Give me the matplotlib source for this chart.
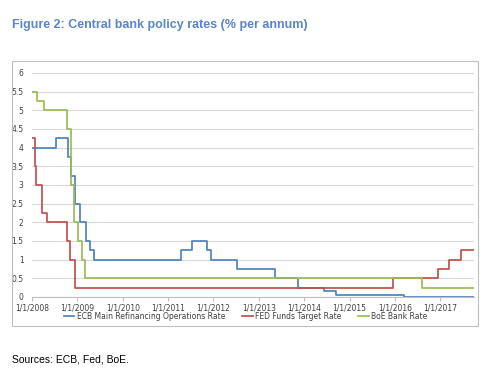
import matplotlib
matplotlib.use("Agg")
import matplotlib.pyplot as plt
import matplotlib.dates as mdates
import pandas as pd
from matplotlib.patches import Rectangle

# policy rate changes (date the new rate takes effect)
ecb_dates = ["2008-01-01", "2008-07-09", "2008-10-15", "2008-11-12", "2008-12-10",
             "2009-01-21", "2009-03-11", "2009-04-08", "2009-05-13", "2011-04-13",
             "2011-07-13", "2011-11-09", "2011-12-14", "2012-07-11", "2013-05-08",
             "2013-11-13", "2014-06-11", "2014-09-10", "2016-03-16", "2017-09-30"]
ecb_rates = [4.0, 4.25, 3.75, 3.25, 2.5, 2.0, 1.5, 1.25, 1.0, 1.25,
             1.5, 1.25, 1.0, 0.75, 0.5, 0.25, 0.15, 0.05, 0.0, 0.0]

fed_dates = ["2008-01-01", "2008-01-22", "2008-01-30", "2008-03-18", "2008-04-30",
             "2008-10-08", "2008-10-29", "2008-12-16", "2015-12-16", "2016-12-14",
             "2017-03-15", "2017-06-14", "2017-09-30"]
fed_rates = [4.25, 3.5, 3.0, 2.25, 2.0, 1.5, 1.0, 0.25, 0.5, 0.75, 1.0, 1.25, 1.25]

boe_dates = ["2008-01-01", "2008-02-07", "2008-04-10", "2008-10-08", "2008-11-06",
             "2008-12-04", "2009-01-08", "2009-02-05", "2009-03-05", "2016-08-04",
             "2017-09-30"]
boe_rates = [5.5, 5.25, 5.0, 4.5, 3.0, 2.0, 1.5, 1.0, 0.5, 0.25, 0.25]

series = [
    ("ECB Main Refinancing Operations Rate", ecb_dates, ecb_rates, "#4f81bd"),
    ("FED Funds Target Rate", fed_dates, fed_rates, "#c0504d"),
    ("BoE Bank Rate", boe_dates, boe_rates, "#9bbb59"),
]

fig = plt.figure(figsize=(4.94, 3.79), dpi=100)
ax = fig.add_axes([0.0648, 0.2164, 0.895, 0.591])

for name, d, v, c in series:
    ax.plot(pd.to_datetime(d), v, drawstyle="steps-post", color=c, lw=1.25, label=name)

ax.set_xlim(pd.Timestamp("2008-01-01"), pd.Timestamp("2017-09-30"))
ax.set_ylim(0, 6)
ax.set_yticks([i * 0.5 for i in range(13)])
ax.set_yticklabels([f"{i * 0.5:g}" for i in range(13)])
ax.set_xticks(pd.to_datetime([f"{y}-01-01" for y in range(2008, 2018)]))
ax.xaxis.set_major_formatter(mdates.DateFormatter("1/1/%Y"))

ax.grid(axis="y", color="#d9d9d9", lw=0.8)
ax.set_axisbelow(True)
for s in ["top", "right", "left"]:
    ax.spines[s].set_visible(False)
ax.spines["bottom"].set_color("#bfbfbf")
ax.tick_params(axis="y", length=0, labelsize=5.5, colors="#404040", pad=6)
ax.tick_params(axis="x", length=3, color="#bfbfbf", labelsize=5.5, labelcolor="#404040", pad=2)

fig.legend(loc="center", bbox_to_anchor=(0.497, 0.166), ncol=3, frameon=False,
           fontsize=5.5, handlelength=1.4, handletextpad=0.3, columnspacing=2.2,
           labelcolor="#404040")

# chart border
fig.patches.append(Rectangle((12 / 494, (379 - 326) / 379), 466 / 494, 265 / 379,
                             transform=fig.transFigure, fill=False, ec="#bfbfbf", lw=0.8))

fig.text(12 / 494, 1 - 25 / 379, "Figure 2: Central bank policy rates (% per annum)",
         fontsize=9, fontweight="bold", color="#5b86c5",
         family="Liberation Sans", va="center", ha="left")
fig.text(12 / 494, 1 - 360 / 379, "Sources: ECB, Fed, BoE.", fontsize=7.5,
         family="Liberation Sans", color="#000000", va="center", ha="left")

fig.savefig("out.png", dpi=100)
